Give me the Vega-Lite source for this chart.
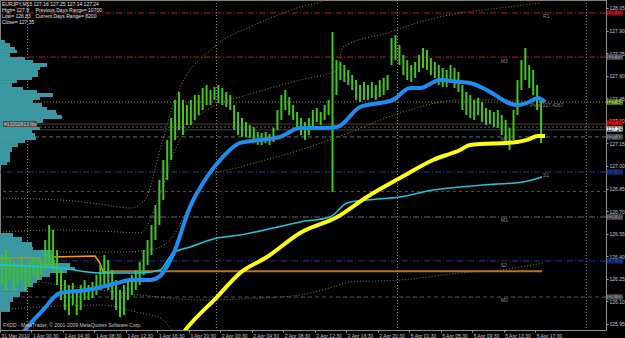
{
  "$schema": "https://vega.github.io/schema/vega-lite/v6.json",
  "width": 606,
  "height": 330,
  "autosize": {"type": "none"},
  "padding": {"left": 0, "top": 0, "right": 19, "bottom": 8},
  "background": "#000000",
  "config": {"view": {"stroke": "#808080"}, "axis": {"titleOpacity": 0, "labelOverlap": false, "labelBound": false, "labelFlush": false, "grid": false}},
  "resolve": {"scale": {"color": "independent", "strokeDash": "independent", "strokeWidth": "independent"}},
  "datasets": {
    "px": [
      {"b":1,"p":126.409,"p2":126.209},{"b":3,"p":126.442,"p2":126.176},{"b":5,"p":126.389,"p2":126.242},{"b":7,"p":126.362,"p2":126.176},{"b":9,"p":126.342,"p2":126.209},{"b":11,"p":126.409,"p2":126.242},{"b":13,"p":126.342,"p2":126.176},{"b":15,"p":126.362,"p2":126.209},{"b":17,"p":126.389,"p2":126.276},{"b":19,"p":126.375,"p2":126.242},{"b":21,"p":126.362,"p2":126.276},{"b":23,"p":126.508,"p2":126.309},{"b":25,"p":126.608,"p2":126.342},{"b":27,"p":126.575,"p2":126.309},{"b":29,"p":126.442,"p2":126.209},{"b":31,"p":126.309,"p2":126.109},{"b":33,"p":126.242,"p2":126.043},{"b":35,"p":126.209,"p2":126.010},{"b":37,"p":126.222,"p2":126.076},{"b":39,"p":126.176,"p2":126.010},{"b":41,"p":126.209,"p2":126.043},{"b":43,"p":126.242,"p2":126.109},{"b":45,"p":126.209,"p2":126.109},{"b":47,"p":126.229,"p2":126.123},{"b":49,"p":126.276,"p2":126.143},{"b":51,"p":126.342,"p2":126.176},{"b":53,"p":126.409,"p2":126.209},{"b":55,"p":126.375,"p2":126.176},{"b":57,"p":126.309,"p2":126.109},{"b":59,"p":126.242,"p2":126.043},{"b":61,"p":126.176,"p2":125.996},{"b":63,"p":126.209,"p2":126.010},{"b":65,"p":126.242,"p2":126.109},{"b":67,"p":126.276,"p2":126.143},{"b":69,"p":126.309,"p2":126.176},{"b":71,"p":126.362,"p2":126.209},{"b":73,"p":126.442,"p2":126.276},{"b":75,"p":126.508,"p2":126.342},{"b":77,"p":126.608,"p2":126.409},{"b":79,"p":126.741,"p2":126.508},{"b":81,"p":126.907,"p2":126.608},{"b":83,"p":127.040,"p2":126.774},{"b":85,"p":127.173,"p2":126.907},{"b":87,"p":127.319,"p2":127.040},{"b":89,"p":127.439,"p2":127.173},{"b":91,"p":127.492,"p2":127.239},{"b":93,"p":127.439,"p2":127.206},{"b":95,"p":127.405,"p2":127.272},{"b":97,"p":127.439,"p2":127.272},{"b":99,"p":127.472,"p2":127.306},{"b":101,"p":127.472,"p2":127.339},{"b":103,"p":127.518,"p2":127.372},{"b":105,"p":127.538,"p2":127.405},{"b":107,"p":127.505,"p2":127.405},{"b":109,"p":127.525,"p2":127.439},{"b":111,"p":127.538,"p2":127.419},{"b":113,"p":127.518,"p2":127.405},{"b":115,"p":127.492,"p2":127.392},{"b":117,"p":127.472,"p2":127.372},{"b":119,"p":127.405,"p2":127.239},{"b":121,"p":127.359,"p2":127.206},{"b":123,"p":127.319,"p2":127.193},{"b":125,"p":127.292,"p2":127.193},{"b":127,"p":127.272,"p2":127.186},{"b":129,"p":127.259,"p2":127.173},{"b":131,"p":127.226,"p2":127.140},{"b":133,"p":127.219,"p2":127.140},{"b":135,"p":127.226,"p2":127.153},{"b":137,"p":127.213,"p2":127.140},{"b":139,"p":127.252,"p2":127.159},{"b":141,"p":127.372,"p2":127.239},{"b":143,"p":127.472,"p2":127.306},{"b":145,"p":127.505,"p2":127.372},{"b":147,"p":127.458,"p2":127.339},{"b":149,"p":127.405,"p2":127.306},{"b":151,"p":127.359,"p2":127.239},{"b":153,"p":127.319,"p2":127.206},{"b":155,"p":127.292,"p2":127.173},{"b":157,"p":127.319,"p2":127.206},{"b":159,"p":127.372,"p2":127.252},{"b":161,"p":127.385,"p2":127.292},{"b":163,"p":127.359,"p2":127.272},{"b":165,"p":127.405,"p2":127.306},{"b":167,"p":127.439,"p2":127.339},{"b":169,"p":127.890,"p2":126.827},{"b":171,"p":127.704,"p2":127.472},{"b":173,"p":127.691,"p2":127.571},{"b":175,"p":127.671,"p2":127.558},{"b":177,"p":127.638,"p2":127.538},{"b":179,"p":127.605,"p2":127.505},{"b":181,"p":127.571,"p2":127.439},{"b":183,"p":127.538,"p2":127.425},{"b":185,"p":127.558,"p2":127.439},{"b":187,"p":127.538,"p2":127.439},{"b":189,"p":127.558,"p2":127.452},{"b":191,"p":127.538,"p2":127.439},{"b":193,"p":127.571,"p2":127.458},{"b":195,"p":127.585,"p2":127.472},{"b":197,"p":127.605,"p2":127.505},{"b":199,"p":127.850,"p2":127.671},{"b":201,"p":127.870,"p2":127.704},{"b":203,"p":127.804,"p2":127.671},{"b":205,"p":127.738,"p2":127.605},{"b":207,"p":127.704,"p2":127.571},{"b":209,"p":127.671,"p2":127.558},{"b":211,"p":127.691,"p2":127.585},{"b":213,"p":127.738,"p2":127.625},{"b":215,"p":127.784,"p2":127.651},{"b":217,"p":127.771,"p2":127.638},{"b":219,"p":127.718,"p2":127.605},{"b":221,"p":127.691,"p2":127.585},{"b":223,"p":127.671,"p2":127.538},{"b":225,"p":127.651,"p2":127.525},{"b":227,"p":127.638,"p2":127.525},{"b":229,"p":127.671,"p2":127.558},{"b":231,"p":127.651,"p2":127.518},{"b":233,"p":127.625,"p2":127.492},{"b":235,"p":127.538,"p2":127.372},{"b":237,"p":127.492,"p2":127.339},{"b":239,"p":127.472,"p2":127.319},{"b":241,"p":127.439,"p2":127.306},{"b":243,"p":127.452,"p2":127.339},{"b":245,"p":127.425,"p2":127.292},{"b":247,"p":127.385,"p2":127.272},{"b":249,"p":127.372,"p2":127.279},{"b":251,"p":127.359,"p2":127.259},{"b":253,"p":127.372,"p2":127.252},{"b":255,"p":127.339,"p2":127.206},{"b":257,"p":127.306,"p2":127.140},{"b":259,"p":127.252,"p2":127.106},{"b":261,"p":127.372,"p2":127.173},{"b":263,"p":127.571,"p2":127.339},{"b":265,"p":127.704,"p2":127.505},{"b":267,"p":127.784,"p2":127.571},{"b":269,"p":127.671,"p2":127.518},{"b":271,"p":127.638,"p2":127.472},{"b":273,"p":127.538,"p2":127.372},{"b":275,"p":127.439,"p2":127.153}
    ],
    "ln": [
      {"s":"blue","b":10.2,"p":125.870},{"s":"blue","b":12.7,"p":125.910},{"s":"blue","b":21.9,"p":126.043},{"s":"blue","b":30.5,"p":126.156},{"s":"blue","b":44.2,"p":126.176},{"s":"blue","b":59.5,"p":126.222},{"s":"blue","b":66.1,"p":126.242},{"s":"blue","b":76.2,"p":126.242},{"s":"blue","b":81.3,"p":126.269},{"s":"blue","b":87.9,"p":126.409},{"s":"blue","b":96.6,"p":126.728},{"s":"blue","b":105.2,"p":126.927},{"s":"blue","b":113.3,"p":127.060},{"s":"blue","b":122,"p":127.153},{"s":"blue","b":132.1,"p":127.173},{"s":"blue","b":142.3,"p":127.193},{"s":"blue","b":152.5,"p":127.252},{"s":"blue","b":162.6,"p":127.252},{"s":"blue","b":171.3,"p":127.259},{"s":"blue","b":183,"p":127.392},{"s":"blue","b":199.7,"p":127.439},{"s":"blue","b":208.4,"p":127.518},{"s":"blue","b":213.5,"p":127.518},{"s":"blue","b":223.6,"p":127.571},{"s":"blue","b":233.8,"p":127.558},{"s":"blue","b":238.9,"p":127.551},{"s":"blue","b":245.5,"p":127.518},{"s":"blue","b":262.8,"p":127.405},{"s":"blue","b":267.9,"p":127.419},{"s":"blue","b":273.4,"p":127.452},{"s":"blue","b":277,"p":127.425},
      {"s":"yellow","b":91.5,"p":125.864},{"s":"yellow","b":95,"p":125.923},{"s":"yellow","b":110.3,"p":126.129},{"s":"yellow","b":122,"p":126.289},{"s":"yellow","b":135.7,"p":126.395},{"s":"yellow","b":152.5,"p":126.555},{"s":"yellow","b":171.3,"p":126.661},{"s":"yellow","b":186.5,"p":126.794},{"s":"yellow","b":203.3,"p":126.920},{"s":"yellow","b":220.1,"p":127.040},{"s":"yellow","b":233.8,"p":127.106},{"s":"yellow","b":238.9,"p":127.140},{"s":"yellow","b":262.8,"p":127.159},{"s":"yellow","b":267.9,"p":127.173},{"s":"yellow","b":273.4,"p":127.199},{"s":"yellow","b":277,"p":127.199},
      {"s":"cyan","b":0,"p":126.342},{"s":"cyan","b":30.5,"p":126.322},{"s":"cyan","b":50.8,"p":126.289},{"s":"cyan","b":71.2,"p":126.289},{"s":"cyan","b":81.3,"p":126.309},{"s":"cyan","b":87.9,"p":126.422},{"s":"cyan","b":96.6,"p":126.462},{"s":"cyan","b":110.3,"p":126.521},{"s":"cyan","b":122,"p":126.541},{"s":"cyan","b":138.8,"p":126.588},{"s":"cyan","b":152.5,"p":126.628},{"s":"cyan","b":167.7,"p":126.661},{"s":"cyan","b":176.4,"p":126.754},{"s":"cyan","b":186.5,"p":126.774},{"s":"cyan","b":203.3,"p":126.794},{"s":"cyan","b":220.1,"p":126.841},{"s":"cyan","b":233.8,"p":126.860},{"s":"cyan","b":245.5,"p":126.874},{"s":"cyan","b":265.8,"p":126.894},{"s":"cyan","b":275.5,"p":126.927},
      {"s":"orA","b":0,"p":126.389},{"s":"orA","b":20.3,"p":126.389},{"s":"orA","b":20.4,"p":126.342},{"s":"orA","b":26.4,"p":126.342},
      {"s":"orB","b":26.5,"p":126.395},{"s":"orB","b":48.3,"p":126.402},{"s":"orB","b":50.8,"p":126.355},{"s":"orB","b":52.4,"p":126.296},{"s":"orB","b":55.9,"p":126.296},
      {"s":"U1","b":0,"p":126.787},{"s":"U1","b":30.5,"p":126.774},{"s":"U1","b":50.8,"p":126.747},{"s":"U1","b":66.1,"p":126.721},{"s":"U1","b":73.7,"p":126.774},{"s":"U1","b":81.3,"p":127.106},{"s":"U1","b":88.9,"p":127.439},{"s":"U1","b":96.6,"p":127.638},{"s":"U1","b":103.2,"p":127.724},{"s":"U1","b":113.3,"p":127.837},{"s":"U1","b":127.1,"p":127.924},{"s":"U1","b":138.8,"p":127.990},{"s":"U1","b":152.5,"p":128.056},{"s":"U1","b":162.6,"p":128.090},{"s":"U1","b":172.8,"p":128.143},
      {"s":"U2","b":0,"p":126.561},{"s":"U2","b":30.5,"p":126.575},{"s":"U2","b":61,"p":126.561},{"s":"U2","b":71.2,"p":126.555},{"s":"U2","b":81.3,"p":126.807},{"s":"U2","b":88.9,"p":127.106},{"s":"U2","b":99.1,"p":127.306},{"s":"U2","b":109.3,"p":127.405},{"s":"U2","b":122,"p":127.458},{"s":"U2","b":137.2,"p":127.518},{"s":"U2","b":152.5,"p":127.571},{"s":"U2","b":171.3,"p":127.638},{"s":"U2","b":174.3,"p":127.791},{"s":"U2","b":196.7,"p":127.884},{"s":"U2","b":213.5,"p":127.957},{"s":"U2","b":233.8,"p":128.017},{"s":"U2","b":254.1,"p":128.050},{"s":"U2","b":274.5,"p":128.083},
      {"s":"L1","b":30.5,"p":126.428},{"s":"L1","b":61,"p":126.428},{"s":"L1","b":76.2,"p":126.442},{"s":"L1","b":86.4,"p":126.508},{"s":"L1","b":96.6,"p":126.741},{"s":"L1","b":105.2,"p":126.927},{"s":"L1","b":122,"p":126.993},{"s":"L1","b":152.5,"p":127.106},{"s":"L1","b":174.3,"p":127.206},{"s":"L1","b":203.3,"p":127.352},{"s":"L1","b":233.8,"p":127.439},{"s":"L1","b":254.1,"p":127.439},{"s":"L1","b":277,"p":127.419},
      {"s":"G1","b":15.2,"p":126.242},{"s":"G1","b":30.5,"p":126.209},{"s":"G1","b":50.8,"p":126.176},{"s":"G1","b":71.2,"p":126.143},{"s":"G1","b":101.7,"p":126.110},{"s":"G1","b":132.1,"p":126.123},{"s":"G1","b":152.5,"p":126.143},{"s":"G1","b":169.3,"p":126.196},{"s":"G1","b":177.9,"p":126.229},{"s":"G1","b":203.3,"p":126.242},{"s":"G1","b":233.8,"p":126.289},{"s":"G1","b":254.1,"p":126.309},{"s":"G1","b":276,"p":126.355},
      {"s":"G2","b":0,"p":126.043},{"s":"G2","b":20.3,"p":126.063},{"s":"G2","b":50.8,"p":126.076},{"s":"G2","b":71.2,"p":126.023},{"s":"G2","b":81.3,"p":125.990},{"s":"G2","b":87.4,"p":125.910},{"s":"G2","b":91.5,"p":125.844}
    ],
    "lv": [
      {"n":"R1","p":128.017},{"n":"M3","p":127.724},{"n":"P","p":127.425},{"n":"BR","p":127.279},{"n":"TQ","p":127.258},{"n":"BID","p":127.240},{"n":"M2","p":127.193},{"n":"S1","p":126.960},{"n":"LOW","p":126.830},{"n":"M1","p":126.661},{"n":"S2","p":126.369},{"n":"M0","p":126.129}
    ],
    "vs": [{"b":14},{"b":110},{"b":202},{"b":298}],
    "pf": [
      {"w":2.5,"p":127.837,"p2":127.817},{"w":5.1,"p":127.817,"p2":127.791},{"w":7.6,"p":127.791,"p2":127.771},{"w":8.6,"p":127.771,"p2":127.751},{"w":5.1,"p":127.751,"p2":127.724},{"w":12.7,"p":127.724,"p2":127.704},{"w":16.8,"p":127.704,"p2":127.684},{"w":23.9,"p":127.684,"p2":127.658},{"w":20.3,"p":127.658,"p2":127.638},{"w":19.3,"p":127.638,"p2":127.618},{"w":19.3,"p":127.618,"p2":127.591},{"w":16.3,"p":127.591,"p2":127.571},{"w":8.6,"p":127.571,"p2":127.551},{"w":6.1,"p":127.551,"p2":127.525},{"w":11.7,"p":127.525,"p2":127.505},{"w":18.8,"p":127.505,"p2":127.485},{"w":26.9,"p":127.485,"p2":127.458},{"w":20.3,"p":127.458,"p2":127.439},{"w":16.8,"p":127.439,"p2":127.419},{"w":21.3,"p":127.419,"p2":127.392},{"w":23.9,"p":127.392,"p2":127.372},{"w":28.5,"p":127.372,"p2":127.352},{"w":29,"p":127.352,"p2":127.339},{"w":31.5,"p":127.339,"p2":127.312},{"w":21.9,"p":127.312,"p2":127.286},{"w":18.8,"p":127.286,"p2":127.259},{"w":20.3,"p":127.259,"p2":127.239},{"w":16.3,"p":127.239,"p2":127.219},{"w":17.8,"p":127.219,"p2":127.193},{"w":18.3,"p":127.193,"p2":127.173},{"w":12.7,"p":127.173,"p2":127.153},{"w":9.1,"p":127.153,"p2":127.126},{"w":6.1,"p":127.126,"p2":127.093},{"w":5.1,"p":127.093,"p2":127.026},{"w":3.6,"p":127.026,"p2":127.007},
      {"w":6.6,"p":126.555,"p2":126.528},{"w":11.2,"p":126.528,"p2":126.495},{"w":16.3,"p":126.495,"p2":126.462},{"w":16.8,"p":126.462,"p2":126.442},{"w":26.4,"p":126.442,"p2":126.409},{"w":26.9,"p":126.409,"p2":126.375},{"w":28,"p":126.375,"p2":126.355},{"w":35.6,"p":126.355,"p2":126.329},{"w":38.1,"p":126.329,"p2":126.309},{"w":34,"p":126.309,"p2":126.289},{"w":25.4,"p":126.289,"p2":126.262},{"w":21.3,"p":126.262,"p2":126.242},{"w":18.8,"p":126.242,"p2":126.222},{"w":16.8,"p":126.222,"p2":126.196},{"w":13.7,"p":126.196,"p2":126.163},{"w":10.2,"p":126.163,"p2":126.129},{"w":6.6,"p":126.129,"p2":126.096},{"w":5.1,"p":126.096,"p2":126.030}
    ],
    "hl": [{"b":55.9,"b2":275.5,"p":126.300}],
    "lb": [{"b":1.5,"b2":18.8,"p":127.299,"p2":127.259}],
    "tx": [
      {"t":"EURJPY,M15  127.16 127.25 127.14 127.24","b":1,"p":128.076,"k":"info"},
      {"t":"High= 127.9","b":1,"p":128.037,"k":"info"},
      {"t":"Previous Days Range= 10700","b":18,"p":128.037,"k":"info"},
      {"t":"Low= 126.83","b":1,"p":127.997,"k":"info"},
      {"t":"Current Days Range= 8200","b":18,"p":127.997,"k":"info"},
      {"t":"Close= 127.35","b":1,"p":127.957,"k":"info"},
      {"t":"FXDD - MetaTrader, © 2001-2009 MetaQuotes Software Corp.","b":1.5,"p":125.943,"k":"copy"},
      {"t":"#13202813 lbs","b":2,"p":127.279,"k":"lbl"},
      {"t":"R1","b":276,"p":127.997,"k":"lvl"},
      {"t":"M3","b":254.5,"p":127.698,"k":"lvl"},
      {"t":"Pivot 127.4267","b":269.4,"p":127.405,"k":"lvl"},
      {"t":"M2","b":254.5,"p":127.179,"k":"lvl"},
      {"t":"S1","b":276,"p":126.940,"k":"lvl"},
      {"t":"M1","b":254.5,"p":126.641,"k":"lvl"},
      {"t":"S2","b":254.5,"p":126.342,"k":"lvl"},
      {"t":"M0","b":254.5,"p":126.110,"k":"lvl"}
    ],
    "bx": [
      {"t":"128.02","p":128.017,"k":"red1"},{"t":"127.72","p":127.724,"k":"gray"},{"t":"127.43","p":127.425,"k":"green"},{"t":"127.28","p":127.286,"k":"red2"},{"t":"127.24","p":127.246,"k":"white"},{"t":"127.19","p":127.193,"k":"gray"},{"t":"126.96","p":126.960,"k":"blue"},{"t":"126.66","p":126.661,"k":"gray"},{"t":"126.37","p":126.369,"k":"blue"},{"t":"126.13","p":126.129,"k":"gray"}
    ]
  },
  "layer": [
    {
      "data": {"name": "lv"},
      "mark": {"type": "rule"},
      "encoding": {
        "y": {"field": "p", "type": "quantitative",
          "scale": {"domain": [125.91, 128.103], "nice": false, "zero": false},
          "axis": {"orient": "right", "title": null, "values": [125.95,126.1,126.25,126.4,126.55,126.7,126.85,127,127.15,127.3,127.45,127.6,127.75,127.9,128.05], "format": ".2f", "labelColor": "#c8c8c8", "labelFont": "Liberation Sans", "labelFontSize": 5, "tickColor": "#a0a0a0", "tickSize": 2, "labelPadding": 1, "domainColor": "#909090", "grid": false, "labelOverlap": false, "labelFlush": false, "labelBound": false}},
        "color": {"field": "n", "type": "nominal", "legend": null,
          "scale": {"domain": ["R1","M3","P","BR","TQ","BID","M2","S1","LOW","M1","S2","M0"], "range": ["#a82020","#a82020","#6e9a20","#6a3a14","#2a6a80","#3a4450","#6a6a6a","#24348e","#c02020","#6a6a6a","#24348e","#555555"]}},
        "strokeDash": {"field": "n", "type": "nominal", "legend": null,
          "scale": {"domain": ["R1","M3","P","BR","TQ","BID","M2","S1","LOW","M1","S2","M0"], "range": [[6,2,1,2],[6,2,1,2],[1,2],[10,0],[2,2],[10,0],[4,3],[6,2,1,2],[3,3],[6,2,1,2],[6,2,1,2],[4,3]]}},
        "strokeWidth": {"field": "n", "type": "nominal", "legend": null,
          "scale": {"domain": ["R1","M3","P","BR","TQ","BID","M2","S1","LOW","M1","S2","M0"], "range": [1,1,1,2.5,1,1,1,1,1,1,1,1]}}
      }
    },
    {
      "data": {"name": "vs"},
      "mark": {"type": "rule", "color": "#8a8a8a", "strokeDash": [1, 2]},
      "encoding": {
        "x": {"field": "b", "type": "quantitative",
          "scale": {"domain": [0, 308], "nice": false, "zero": false},
          "axis": {"title": null, "values": [0,16,32,48,64,80,96,112,128,144,160,176,192,208,224,240,256,272],
            "labelExpr": "['31 Mar 2010','1 Apr 00:30','1 Apr 04:30','1 Apr 08:30','1 Apr 12:30','1 Apr 16:30','1 Apr 20:30','2 Apr 00:30','2 Apr 04:30','2 Apr 08:30','2 Apr 12:30','2 Apr 16:30','2 Apr 20:30','5 Apr 01:30','5 Apr 05:30','5 Apr 09:30','5 Apr 13:30','5 Apr 17:30'][round(datum.value/16)]",
            "labelAlign": "left", "labelBaseline": "top", "labelOffset": 1, "labelColor": "#c8c8c8", "labelFont": "Liberation Sans", "labelFontSize": 5, "tickColor": "#a0a0a0", "tickSize": 2, "labelPadding": 1, "domainColor": "#909090", "grid": false, "labelOverlap": false, "labelFlush": false, "labelBound": false}}
      }
    },
    {
      "resolve": {"scale": {"color": "independent"}},
      "encoding": {
        "x": {"field": "b", "type": "quantitative",
          "scale": {"domain": [0, 308], "nice": false, "zero": false},
          "axis": {"title": null, "values": [0,16,32,48,64,80,96,112,128,144,160,176,192,208,224,240,256,272],
            "labelExpr": "['31 Mar 2010','1 Apr 00:30','1 Apr 04:30','1 Apr 08:30','1 Apr 12:30','1 Apr 16:30','1 Apr 20:30','2 Apr 00:30','2 Apr 04:30','2 Apr 08:30','2 Apr 12:30','2 Apr 16:30','2 Apr 20:30','5 Apr 01:30','5 Apr 05:30','5 Apr 09:30','5 Apr 13:30','5 Apr 17:30'][round(datum.value/16)]",
            "labelAlign": "left", "labelBaseline": "top", "labelOffset": 1, "labelColor": "#c8c8c8", "labelFont": "Liberation Sans", "labelFontSize": 5, "tickColor": "#a0a0a0", "tickSize": 2, "labelPadding": 1, "domainColor": "#909090", "grid": false, "labelOverlap": false, "labelFlush": false, "labelBound": false}},
        "y": {"field": "p", "type": "quantitative",
          "scale": {"domain": [125.91, 128.103], "nice": false, "zero": false},
          "axis": {"orient": "right", "title": null, "values": [125.95,126.1,126.25,126.4,126.55,126.7,126.85,127,127.15,127.3,127.45,127.6,127.75,127.9,128.05], "format": ".2f", "labelColor": "#c8c8c8", "labelFont": "Liberation Sans", "labelFontSize": 5, "tickColor": "#a0a0a0", "tickSize": 2, "labelPadding": 1, "domainColor": "#909090", "grid": false, "labelOverlap": false, "labelFlush": false, "labelBound": false}}
      },
      "layer": [
        {
          "data": {"name": "pf"},
          "mark": {"type": "rect", "color": "#3b98a0"},
          "encoding": {
            "x": {"field": "w", "type": "quantitative"},
            "x2": {"datum": 0},
            "y2": {"field": "p2"}
          }
        },
        {
          "data": {"name": "ln"},
          "transform": [{"filter": "indexof(['U1','U2','L1','G1','G2'], datum.s) >= 0"}],
          "mark": {"type": "line", "strokeWidth": 1, "strokeDash": [1, 2], "interpolate": "monotone", "clip": true},
          "encoding": {
            "color": {"field": "s", "type": "nominal", "legend": null,
              "scale": {"domain": ["U1","U2","L1","G1","G2"], "range": ["#8c8a28","#8c8a28","#8c8a28","#7a7a7a","#7a7a7a"]}}
          }
        },
        {
          "data": {"name": "hl"},
          "mark": {"type": "rule", "color": "#b8741c", "strokeWidth": 2},
          "encoding": {"x2": {"field": "b2"}}
        },
        {
          "data": {"name": "ln"},
          "transform": [{"filter": "datum.s == 'orA' || datum.s == 'orB'"}],
          "mark": {"type": "line", "strokeWidth": 1.5},
          "encoding": {
            "color": {"field": "s", "type": "nominal", "legend": null,
              "scale": {"domain": ["orA","orB"], "range": ["#a89040","#ff9a00"]}}
          }
        },
        {
          "data": {"name": "px"},
          "mark": {"type": "rule", "color": "#40c61e", "strokeWidth": 2},
          "encoding": {"y2": {"field": "p2"}}
        },
        {
          "data": {"name": "ln"},
          "transform": [{"filter": "datum.s == 'cyan'"}],
          "mark": {"type": "line", "color": "#22c4dc", "strokeWidth": 1.5, "interpolate": "monotone"},
          "encoding": {}
        },
        {
          "data": {"name": "ln"},
          "transform": [{"filter": "datum.s == 'blue'"}],
          "mark": {"type": "line", "color": "#1e8cf0", "strokeWidth": 4, "interpolate": "monotone", "clip": true},
          "encoding": {}
        },
        {
          "data": {"name": "ln"},
          "transform": [{"filter": "datum.s == 'yellow'"}],
          "mark": {"type": "line", "color": "#ffff10", "strokeWidth": 4, "interpolate": "monotone", "clip": true},
          "encoding": {}
        },
        {
          "data": {"name": "lb"},
          "mark": {"type": "rect", "color": "#4a4a4a"},
          "encoding": {"x2": {"field": "b2"}, "y2": {"field": "p2"}}
        },
        {
          "data": {"name": "tx"},
          "mark": {"type": "text", "align": "left", "baseline": "middle", "font": "Liberation Sans", "fontSize": 5},
          "encoding": {
            "text": {"field": "t"},
            "color": {"field": "k", "type": "nominal", "legend": null,
              "scale": {"domain": ["info","copy","lbl","lvl"], "range": ["#e6e6e6","#c8c8c8","#d8d8d8","#8a8a8a"]}}
          }
        }
      ]
    },
    {
      "data": {"name": "bx"},
      "encoding": {
        "x": {"datum": 312.4, "type": "quantitative",
          "scale": {"domain": [0, 308], "nice": false, "zero": false},
          "axis": {"title": null, "values": [0,16,32,48,64,80,96,112,128,144,160,176,192,208,224,240,256,272],
            "labelExpr": "['31 Mar 2010','1 Apr 00:30','1 Apr 04:30','1 Apr 08:30','1 Apr 12:30','1 Apr 16:30','1 Apr 20:30','2 Apr 00:30','2 Apr 04:30','2 Apr 08:30','2 Apr 12:30','2 Apr 16:30','2 Apr 20:30','5 Apr 01:30','5 Apr 05:30','5 Apr 09:30','5 Apr 13:30','5 Apr 17:30'][round(datum.value/16)]",
            "labelAlign": "left", "labelBaseline": "top", "labelOffset": 1, "labelColor": "#c8c8c8", "labelFont": "Liberation Sans", "labelFontSize": 5, "tickColor": "#a0a0a0", "tickSize": 2, "labelPadding": 1, "domainColor": "#909090", "grid": false, "labelOverlap": false, "labelFlush": false, "labelBound": false}},
        "y": {"field": "p", "type": "quantitative",
          "scale": {"domain": [125.91, 128.103], "nice": false, "zero": false},
          "axis": {"orient": "right", "title": null, "values": [125.95,126.1,126.25,126.4,126.55,126.7,126.85,127,127.15,127.3,127.45,127.6,127.75,127.9,128.05], "format": ".2f", "labelColor": "#c8c8c8", "labelFont": "Liberation Sans", "labelFontSize": 5, "tickColor": "#a0a0a0", "tickSize": 2, "labelPadding": 1, "domainColor": "#909090", "grid": false, "labelOverlap": false, "labelFlush": false, "labelBound": false}}
      },
      "layer": [
        {
          "mark": {"type": "tick", "orient": "horizontal", "size": 16, "thickness": 5, "opacity": 1},
          "encoding": {
            "color": {"field": "k", "type": "nominal", "legend": null,
              "scale": {"domain": ["red1","gray","green","red2","white","blue"], "range": ["#b01c1c","#767676","#8cc030","#e81010","#f0f0f0","#1c3a96"]}}
          }
        },
        {
          "mark": {"type": "text", "align": "center", "baseline": "middle", "font": "Liberation Sans", "fontSize": 5},
          "encoding": {
            "text": {"field": "t"},
            "color": {"field": "k", "type": "nominal", "legend": null,
              "scale": {"domain": ["red1","gray","green","red2","white","blue"], "range": ["#3a0808","#1a1a1a","#1a2a00","#4a0000","#000000","#08103a"]}}
          }
        }
      ],
      "resolve": {"scale": {"color": "independent"}}
    }
  ]
}
